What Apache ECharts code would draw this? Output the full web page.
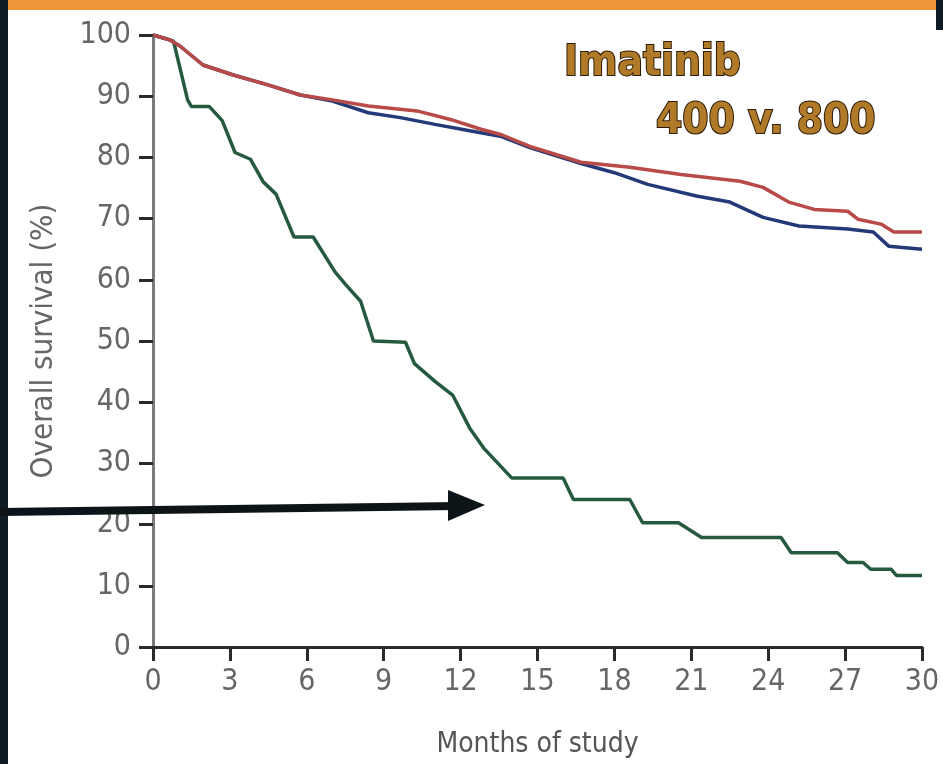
<!DOCTYPE html>
<html>
<head>
<meta charset="utf-8">
<script src="https://cdn.jsdelivr.net/npm/echarts@6/dist/echarts.min.js"></script>
<style>
html,body{margin:0;padding:0;background:#fff;}
#c{width:943px;height:764px;}
</style>
</head>
<body>
<div id="c"></div>
<script>
// ---- data (months of study, overall survival %) ----
var xTicks = [0, 3, 6, 9, 12, 15, 18, 21, 24, 27, 30];
var yTicks = [0, 10, 20, 30, 40, 50, 60, 70, 80, 90, 100];

var greenMonths   = [0, 0.8, 1.35, 1.5, 2.2, 2.7, 3.2, 3.8, 4.3, 4.8, 5.5, 6.25, 7.1, 7.5, 8.1, 8.6, 9.85, 10.2, 11.0, 11.7, 12.35, 12.9, 14.0, 16.0, 16.4, 18.6, 19.1, 20.5, 21.4, 24.5, 24.9, 26.7, 27.1, 27.7, 28.0, 28.8, 29.0, 30];
var greenSurvival = [100, 99, 89.4, 88.3, 88.3, 86, 80.8, 79.7, 76, 74, 67, 67, 61.3, 59.3, 56.5, 50, 49.8, 46.3, 43.4, 41.1, 35.8, 32.5, 27.6, 27.6, 24.1, 24.1, 20.3, 20.3, 17.9, 17.9, 15.4, 15.4, 13.8, 13.8, 12.7, 12.7, 11.7, 11.7];

var redMonths   = [0, 0.66, 1.05, 1.95, 3.1, 4.45, 5.75, 7.0, 8.4, 10.3, 11.6, 12.8, 13.6, 14.7, 16.7, 18.6, 20.6, 22.9, 23.8, 24.8, 25.8, 27.1, 27.5, 28.4, 28.9, 30];
var redSurvival = [100, 99.2, 98.2, 95.1, 93.5, 91.9, 90.2, 89.4, 88.4, 87.6, 86.2, 84.6, 83.7, 81.8, 79.2, 78.4, 77.2, 76.1, 75.1, 72.7, 71.5, 71.2, 69.9, 69.1, 67.8, 67.8];

var blueMonths   = [0, 0.66, 1.05, 1.95, 3.1, 4.45, 5.75, 7.0, 8.4, 9.65, 11.0, 12.3, 13.6, 14.7, 16.7, 18.0, 19.3, 21.2, 22.5, 23.8, 25.2, 27.1, 28.1, 28.7, 30];
var blueSurvival = [100, 99.2, 98.2, 95.1, 93.5, 91.9, 90.2, 89.2, 87.3, 86.5, 85.4, 84.4, 83.4, 81.6, 79.0, 77.5, 75.6, 73.7, 72.7, 70.2, 68.8, 68.3, 67.8, 65.5, 65.0];

function pairs(xs, ys) {
  var out = [];
  for (var i = 0; i < xs.length; i++) out.push([xs[i], ys[i]]);
  return out;
}

var FONT = "'Liberation Sans Narrow', 'DejaVu Sans Condensed', 'Liberation Sans', sans-serif";

var chart = echarts.init(document.getElementById('c'), null, {renderer: 'canvas'});
chart.setOption({
  animation: false,
  backgroundColor: '#ffffff',
  grid: {left: 153, right: 21, top: 35, bottom: 114, containLabel: false},
  xAxis: {
    type: 'value', min: 0, max: 30, interval: 3,
    axisLine: {show: true, lineStyle: {color: '#2a2a2a', width: 3}},
    axisTick: {show: true, inside: false, length: 14, lineStyle: {color: '#2a2a2a', width: 3}},
    axisLabel: {fontSize: 30, color: '#666', margin: 20, fontFamily: FONT,
      formatter: function (v) { return xTicks.indexOf(v) >= 0 ? String(v) : ''; }},
    splitLine: {show: false},
    name: 'Months of study', nameLocation: 'middle', nameGap: 84,
    nameTextStyle: {fontSize: 28, color: '#555', fontFamily: FONT}
  },
  yAxis: {
    type: 'value', min: 0, max: 100, interval: 10,
    axisLine: {show: true, lineStyle: {color: '#7a7a7a', width: 3}},
    axisTick: {show: true, inside: false, length: 14, lineStyle: {color: '#2a2a2a', width: 3}},
    axisLabel: {fontSize: 30, color: '#666', margin: 22, fontFamily: FONT,
      formatter: function (v) { return yTicks.indexOf(v) >= 0 ? String(v) : ''; }},
    splitLine: {show: false},
    name: 'Overall survival (%)', nameLocation: 'middle', nameRotate: 90, nameGap: 94,
    nameTextStyle: {fontSize: 31, color: '#666', fontFamily: FONT}
  },
  series: [
    {type: 'line', data: pairs(greenMonths, greenSurvival), showSymbol: false,
     lineStyle: {color: '#265a40', width: 3.5}, z: 3},
    {type: 'line', data: pairs(blueMonths, blueSurvival), showSymbol: false,
     lineStyle: {color: '#243a78', width: 3.5}, z: 4},
    {type: 'line', data: pairs(redMonths, redSurvival), showSymbol: false,
     lineStyle: {color: '#b84a48', width: 3.5}, z: 5}
  ],
  graphic: [
    {type: 'rect', shape: {x: 0, y: 0, width: 943, height: 10}, style: {fill: '#f0973c'}, z: 100},
    {type: 'rect', shape: {x: 0, y: 0, width: 8, height: 764}, style: {fill: '#0e1b24'}, z: 100},
    {type: 'rect', shape: {x: 936, y: 0, width: 7, height: 30}, style: {fill: '#0e1b24'}, z: 100},
    {type: 'line', shape: {x1: 0, y1: 512, x2: 458, y2: 506}, style: {stroke: '#0c1418', lineWidth: 8}, z: 100},
    {type: 'polygon', shape: {points: [[448, 490], [485, 505], [448, 521]]}, style: {fill: '#0c1418'}, z: 100},
    {type: 'text', left: 563, top: 42, z: 100,
     style: {text: 'Imatinib', fontSize: 42, fontWeight: 'bold', fontFamily: FONT,
       fill: '#b07a28', stroke: '#2b1a05', lineWidth: 2}},
    {type: 'text', left: 655, top: 100, z: 100,
     style: {text: '400 v. 800', fontSize: 42, fontWeight: 'bold', fontFamily: FONT,
       fill: '#b07a28', stroke: '#2b1a05', lineWidth: 2}}
  ]
});
</script>
</body>
</html>
